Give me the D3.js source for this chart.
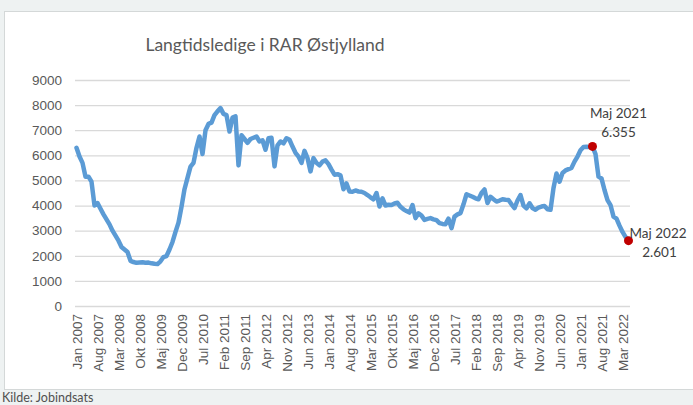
<!DOCTYPE html>
<html>
<head>
<meta charset="utf-8">
<script src="https://cdn.jsdelivr.net/npm/d3@7"></script>
<style>
  html, body { margin: 0; padding: 0; background: #eef2f2; }
  svg { display: block; font-family: Lato, "Open Sans", sans-serif; }
</style>
</head>
<body>
<svg id="chart" width="693" height="405"></svg>
<script>
// Danish month names, series runs Jan 2007 .. Maj 2022
const maaneder = ['Jan', 'Feb', 'Mar', 'Apr', 'Maj', 'Jun', 'Jul', 'Aug', 'Sep', 'Okt', 'Nov', 'Dec'];
const startAar = 2007;

// langtidsledige, one row per year
const ledige = [
  6300, 5950, 5700, 5150, 5150, 4950, 4000, 4100, 3870, 3650, 3450, 3250, // 2007
  3000, 2800, 2600, 2350, 2250, 2150, 1800, 1750, 1720, 1730, 1740, 1720, // 2008
  1730, 1700, 1680, 1670, 1780, 1950, 1990, 2250, 2550, 2950, 3320, 3950, // 2009
  4650, 5100, 5550, 5700, 6300, 6750, 6050, 7000, 7250, 7300, 7600, 7750, // 2010
  7880, 7650, 7600, 6950, 7500, 7550, 5600, 6800, 6650, 6500, 6650, 6700, // 2011
  6750, 6550, 6600, 6220, 6680, 6700, 5560, 6400, 6550, 6480, 6680, 6620, // 2012
  6350, 6100, 5950, 5700, 6180, 5890, 5360, 5890, 5700, 5600, 5750, 5800, // 2013
  5650, 5430, 5230, 5250, 5200, 4650, 4880, 4560, 4550, 4600, 4560, 4550, // 2014
  4500, 4420, 4330, 4250, 4500, 3960, 4290, 4000, 4030, 4020, 4080, 4110, // 2015
  3950, 3850, 3780, 3720, 4020, 3500, 3690, 3600, 3430, 3470, 3500, 3450, // 2016
  3420, 3300, 3270, 3260, 3480, 3100, 3560, 3650, 3700, 4050, 4450, 4400, // 2017
  4350, 4290, 4250, 4500, 4640, 4100, 4350, 4250, 4160, 4200, 4250, 4230, // 2018
  4220, 4050, 3900, 4200, 4420, 4000, 3890, 4090, 3900, 3830, 3920, 3960, // 2019
  3980, 3850, 3830, 4700, 5280, 4950, 5300, 5400, 5450, 5500, 5750, 5950, // 2020
  6200, 6330, 6340, 6330, 6355, 6050, 5150, 5080, 4620, 4220, 4020, 3560, // 2021
  3480, 3200, 2950, 2750, 2601                                              // 2022
];

const yTicks = [0, 1000, 2000, 3000, 4000, 5000, 6000, 7000, 8000, 9000];
const labelStep = 7; // every 7th month gets a label
const markeringer = [
  { maaned: 'Maj 2021', vaerdi: '6.355' },
  { maaned: 'Maj 2022', vaerdi: '2.601' }
];

const kategorier = ledige.map((d, i) => maaneder[i % 12] + ' ' + (startAar + Math.floor(i / 12)));
const data = ledige.map((v, i) => ({ k: kategorier[i], v: v }));

const svg = d3.select('#chart');

// white chart card
svg.append('rect')
  .attr('x', 4.5).attr('y', 11.5)
  .attr('width', 720).attr('height', 378)
  .attr('fill', '#fff')
  .attr('stroke', '#d4d8d8');

const x = d3.scalePoint().domain(kategorier).range([75, 630]).padding(0.5);
const y = d3.scaleLinear().domain([0, 9000]).range([306, 80]);

// y axis with gridlines
const gy = svg.append('g')
  .attr('transform', 'translate(75,0)')
  .call(d3.axisLeft(y).tickValues(yTicks).tickSize(-555).tickFormat(d => d).tickPadding(13));
gy.select('.domain').remove();
gy.selectAll('.tick line').attr('stroke', '#d9d9d9').attr('stroke-width', 1.3);
gy.selectAll('.tick text').attr('fill', '#595959').style('font-size', '13.5px');

// x axis labels, rotated
const gx = svg.append('g')
  .attr('transform', 'translate(0,306)')
  .call(d3.axisBottom(x).tickValues(kategorier.filter((d, i) => i % labelStep === 0)).tickSize(0));
gx.select('.domain').remove();
gx.selectAll('.tick text')
  .attr('fill', '#595959')
  .style('font-size', '13.5px')
  .attr('text-anchor', 'end')
  .attr('transform', 'rotate(-90)')
  .attr('x', -8)
  .attr('y', 0)
  .attr('dy', '0.35em');

// the line
const line = d3.line().x(d => x(d.k)).y(d => y(d.v));
svg.append('path')
  .datum(data)
  .attr('d', line)
  .attr('fill', 'none')
  .attr('stroke', '#5b9bd5')
  .attr('stroke-width', 4.5)
  .attr('stroke-linejoin', 'round')
  .attr('stroke-linecap', 'round');

// red markers
const punkter = markeringer.map(m => data.find(d => d.k === m.maaned));
svg.selectAll('circle.mark')
  .data(punkter)
  .join('circle')
  .attr('class', 'mark')
  .attr('cx', d => x(d.k))
  .attr('cy', d => y(d.v))
  .attr('r', 4.5)
  .attr('fill', '#c00000');

// annotation texts
const p1 = punkter[0], p2 = punkter[1];
const ann = svg.append('g').attr('fill', '#404040').style('font-size', '13.5px');
ann.append('text').attr('x', x(p1.k) + 26).attr('y', y(p1.v) - 28).attr('text-anchor', 'middle').text(markeringer[0].maaned);
ann.append('text').attr('x', x(p1.k) + 26).attr('y', y(p1.v) - 9).attr('text-anchor', 'middle').text(markeringer[0].vaerdi);
ann.append('text').attr('x', x(p2.k) + 1).attr('y', y(p2.v) - 3).attr('text-anchor', 'start').text(markeringer[1].maaned);
ann.append('text').attr('x', x(p2.k) + 31).attr('y', y(p2.v) + 16).attr('text-anchor', 'middle').text(markeringer[1].vaerdi);

// title
svg.append('text')
  .attr('x', 265).attr('y', 51)
  .attr('text-anchor', 'middle')
  .attr('fill', '#595959')
  .style('font-size', '17.5px')
  .text('Langtidsledige i RAR Østjylland');

// source
svg.append('text')
  .attr('x', 2).attr('y', 402)
  .attr('fill', '#505050')
  .style('font-size', '12.5px')
  .text('Kilde: Jobindsats');
</script>
</body>
</html>
